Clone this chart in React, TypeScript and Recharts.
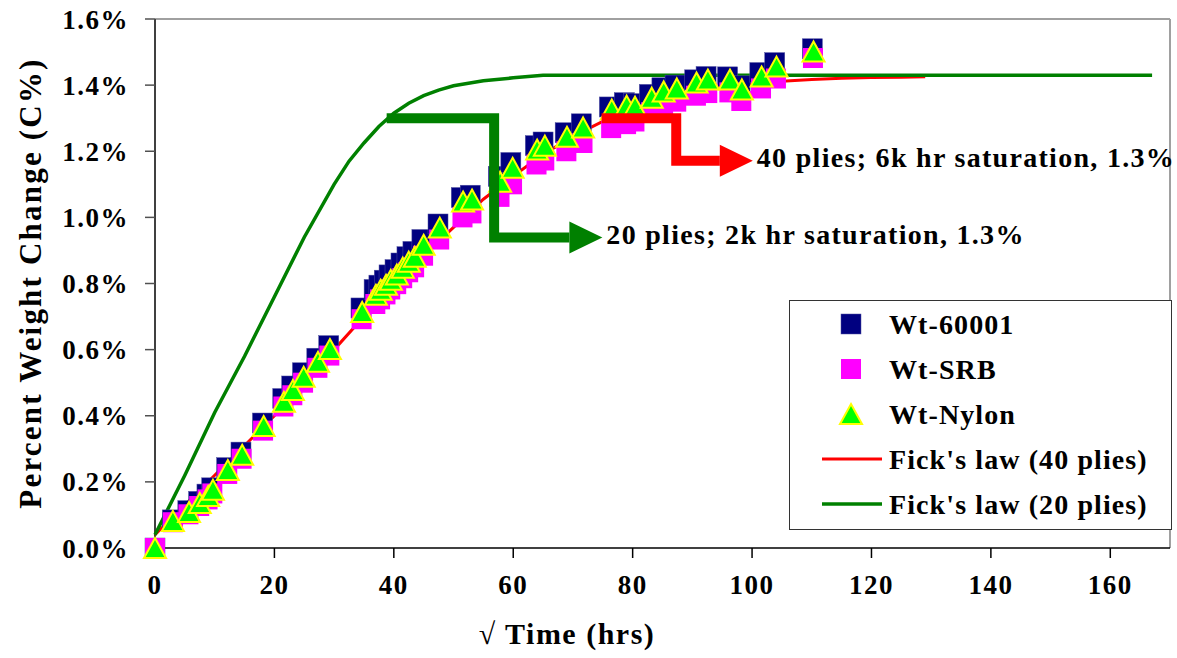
import React from "react";
import { ScatterChart, Scatter, XAxis, YAxis, ReferenceLine } from "recharts";

const FONT = '"Liberation Serif", "Times New Roman", serif';

// Weighings: sqrt(hours) and weight gain (%) for each specimen
const nylonX = [0, 3.0, 5.7, 7.5, 8.9, 9.7, 12.2, 14.6, 18.2, 21.6, 23.1, 24.9, 27.3, 29.3, 34.7, 37.0, 37.8, 38.7, 39.5, 40.5, 41.5, 42.5, 43.5, 45.0, 47.7, 51.6, 53.1, 57.8, 59.9, 64.0, 65.3, 69.0, 71.7, 76.5, 79.0, 80.4, 83.2, 85.2, 87.4, 90.7, 92.6, 96.3, 98.3, 101.6, 104.1, 110.3];
const nylonY = [0.0, 0.082, 0.109, 0.136, 0.157, 0.176, 0.236, 0.282, 0.369, 0.442, 0.478, 0.518, 0.563, 0.602, 0.714, 0.766, 0.781, 0.796, 0.811, 0.827, 0.848, 0.866, 0.881, 0.917, 0.969, 1.048, 1.054, 1.108, 1.150, 1.205, 1.217, 1.244, 1.272, 1.326, 1.338, 1.335, 1.362, 1.381, 1.390, 1.408, 1.417, 1.417, 1.387, 1.426, 1.456, 1.502];

const w60X = [0, 2.9, 5.5, 7.3, 8.7, 9.5, 12.0, 14.4, 18.0, 21.4, 22.9, 24.7, 27.1, 29.1, 34.5, 36.7, 37.5, 38.4, 39.2, 40.2, 41.2, 42.2, 43.2, 44.7, 47.4, 51.3, 52.8, 57.5, 59.6, 63.7, 65.0, 68.7, 71.4, 76.1, 78.6, 80.1, 82.8, 84.9, 87.1, 90.4, 92.3, 95.9, 98.0, 101.3, 103.8, 110.1];
const w60Y = [0.0, 0.085, 0.113, 0.141, 0.163, 0.182, 0.243, 0.29, 0.378, 0.452, 0.49, 0.53, 0.574, 0.612, 0.726, 0.782, 0.795, 0.81, 0.826, 0.842, 0.862, 0.881, 0.897, 0.933, 0.98, 1.06, 1.067, 1.124, 1.166, 1.217, 1.228, 1.256, 1.283, 1.334, 1.347, 1.344, 1.372, 1.392, 1.4, 1.416, 1.426, 1.425, 1.398, 1.438, 1.468, 1.51];

const srbX = [0, 3.0, 5.6, 7.4, 8.8, 9.6, 12.1, 14.5, 18.1, 21.5, 23.0, 24.8, 27.2, 29.2, 34.6, 36.9, 37.7, 38.6, 39.4, 40.4, 41.4, 42.4, 43.4, 44.9, 47.6, 51.5, 53.0, 57.7, 59.8, 63.9, 65.2, 68.9, 71.6, 76.4, 78.9, 80.3, 83.1, 85.1, 87.3, 90.6, 92.5, 96.2, 98.2, 101.5, 104.0, 110.2];
const srbY = [0.0, 0.078, 0.102, 0.127, 0.147, 0.165, 0.224, 0.27, 0.355, 0.428, 0.462, 0.5, 0.545, 0.582, 0.692, 0.738, 0.752, 0.767, 0.782, 0.798, 0.816, 0.834, 0.849, 0.884, 0.933, 1.0, 1.012, 1.062, 1.1, 1.16, 1.172, 1.2, 1.225, 1.27, 1.282, 1.29, 1.318, 1.34, 1.35, 1.368, 1.376, 1.378, 1.352, 1.39, 1.42, 1.482];

// Fick's law fits
const fick40X = [0, 5, 10, 15, 20, 25, 30, 35, 40, 45, 50, 55, 60, 65, 70, 75, 80, 85, 90, 95, 100, 105, 110, 115, 120, 125, 129];
const fick40Y = [0.04, 0.13, 0.22, 0.31, 0.40, 0.50, 0.60, 0.70, 0.80, 0.885, 0.97, 1.055, 1.125, 1.19, 1.245, 1.29, 1.325, 1.355, 1.378, 1.395, 1.405, 1.412, 1.417, 1.421, 1.423, 1.424, 1.425];
const fick20X = [0, 5, 10, 15, 20, 25, 30, 32.5, 35, 37.5, 40, 42.5, 45, 47.5, 50, 55, 60, 65, 70, 80, 100, 120, 140, 160, 167];
const fick20Y = [0.04, 0.22, 0.41, 0.58, 0.76, 0.94, 1.10, 1.17, 1.225, 1.275, 1.315, 1.345, 1.368, 1.385, 1.398, 1.413, 1.422, 1.43, 1.43, 1.43, 1.43, 1.43, 1.43, 1.43, 1.43];

// Elbow call-out arrows (saturation level -> label)
const arrow20X = [38.8, 56.8, 56.8, 69.4];
const arrow20Y = [1.30, 1.30, 0.939, 0.939];
const arrow40X = [74.8, 87.3, 87.3, 94.6];
const arrow40Y = [1.30, 1.30, 1.171, 1.171];

const xTicks = [0, 20, 40, 60, 80, 100, 120, 140, 160];
const yTicks = [0, 0.2, 0.4, 0.6, 0.8, 1.0, 1.2, 1.4, 1.6];

const toPoints = (xs: number[], ys: number[]) => xs.map((x, i) => ({ x, y: ys[i] }));

const NavySquare = (p: any) => (
  <rect x={p.cx - 10} y={p.cy - 10} width={20} height={20} fill="#000080" stroke="#5050a0" strokeWidth={0.5} />
);
const MagentaSquare = (p: any) => (
  <rect x={p.cx - 10} y={p.cy - 10} width={20} height={20} fill="#FF00FF" />
);
const Triangle = (p: any) => (
  <polygon
    points={`${p.cx},${p.cy - 10} ${p.cx + 11},${p.cy + 10} ${p.cx - 11},${p.cy + 10}`}
    fill="#00FF00"
    stroke="#FFFF00"
    strokeWidth={2}
  />
);
const NoDot = () => <g />;

const arrowHead = (color: string, text: string) => (p: any) => (
  <g>
    <polygon points={`${p.cx},${p.cy - 16} ${p.cx + 33},${p.cy} ${p.cx},${p.cy + 16}`} fill={color} />
    <text
      x={p.cx + 37}
      y={p.cy - 3}
      dominantBaseline="central"
      fontFamily={FONT}
      fontWeight="bold"
      fontSize={28}
      letterSpacing={1.3}
      fill="#000"
    >
      {text}
    </text>
  </g>
);

const tickStyle = { fill: "#000", fontSize: 27, fontWeight: "bold", fontFamily: FONT, letterSpacing: 1.5 };

const LegendBox = () => {
  const rows = [
    { label: "Wt-60001", kind: "navy" },
    { label: "Wt-SRB", kind: "magenta" },
    { label: "Wt-Nylon", kind: "tri" },
    { label: "Fick's law (40 plies)", kind: "red" },
    { label: "Fick's law (20 plies)", kind: "green" },
  ];
  return (
    <div
      style={{
        position: "absolute",
        left: 789,
        top: 300,
        width: 383,
        height: 230,
        boxSizing: "border-box",
        border: "1px solid #333",
        background: "#fff",
      }}
    >
      <svg width={381} height={228}>
        {rows.map((r, i) => {
          const cy = 23 + i * 45;
          return (
            <g key={r.label}>
              {r.kind === "navy" && <NavySquare cx={61} cy={cy} />}
              {r.kind === "magenta" && <MagentaSquare cx={61} cy={cy} />}
              {r.kind === "tri" && <Triangle cx={61} cy={cy} />}
              {r.kind === "red" && <line x1={32} x2={92} y1={cy} y2={cy} stroke="#FF0000" strokeWidth={3} />}
              {r.kind === "green" && <line x1={32} x2={92} y1={cy} y2={cy} stroke="#008000" strokeWidth={3.5} />}
              <text
                x={99}
                y={cy}
                dominantBaseline="central"
                fontFamily={FONT}
                fontWeight="bold"
                fontSize={28}
                letterSpacing={1.1}
                fill="#000"
              >
                {r.label}
              </text>
            </g>
          );
        })}
      </svg>
    </div>
  );
};

const XTitle = () => (
  <text
    x={567}
    y={633}
    textAnchor="middle"
    dominantBaseline="central"
    fontFamily={FONT}
    fontWeight="bold"
    fontSize={30}
    letterSpacing={1.5}
    fill="#000"
  >
    √ Time (hrs)
  </text>
);

const YTitle = () => (
  <text
    x={30}
    y={283}
    transform="rotate(-90, 30, 283)"
    textAnchor="middle"
    dominantBaseline="central"
    fontFamily={FONT}
    fontWeight="bold"
    fontSize={31}
    letterSpacing={2.2}
    fill="#000"
  >
    Percent Weight Change (C%)
  </text>
);

export default function App() {
  return (
    <div style={{ position: "absolute", left: 0, top: 0, width: 1177, height: 658, background: "#fff" }}>
      <ScatterChart width={1177} height={658} margin={{ top: 19, right: 7, bottom: 0, left: 0 }}>
        <XAxis
          type="number"
          dataKey="x"
          domain={[0, 170]}
          ticks={xTicks}
          height={110}
          tickSize={10}
          tickMargin={17}
          tick={tickStyle}
          axisLine={{ stroke: "#000", strokeWidth: 1.5 }}
          tickLine={{ stroke: "#000", strokeWidth: 1.5 }}
          label={<XTitle />}
        />
        <YAxis
          type="number"
          dataKey="y"
          domain={[0, 1.6]}
          ticks={yTicks}
          width={155}
          tickSize={10}
          tickMargin={16}
          tick={tickStyle}
          tickFormatter={(v: number) => `${v.toFixed(1)}%`}
          axisLine={{ stroke: "#404040", strokeWidth: 2 }}
          tickLine={{ stroke: "#505050", strokeWidth: 1.5 }}
          label={<YTitle />}
        />
        <ReferenceLine y={1.6} stroke="#a0a0a0" strokeWidth={2} />
        <ReferenceLine x={170} stroke="#a0a0a0" strokeWidth={2} />

        <Scatter
          data={toPoints(fick40X, fick40Y)}
          line={{ stroke: "#FF0000", strokeWidth: 3 }}
          shape={NoDot}
          isAnimationActive={false}
        />
        <Scatter
          data={toPoints(fick20X, fick20Y)}
          line={{ stroke: "#008000", strokeWidth: 3.5 }}
          shape={NoDot}
          isAnimationActive={false}
        />

        <Scatter data={toPoints(w60X, w60Y)} shape={NavySquare} isAnimationActive={false} />
        <Scatter data={toPoints(srbX, srbY)} shape={MagentaSquare} isAnimationActive={false} />
        <Scatter data={toPoints(nylonX, nylonY)} shape={Triangle} isAnimationActive={false} />

        <Scatter
          data={toPoints(arrow20X, arrow20Y)}
          line={{ stroke: "#008000", strokeWidth: 10, strokeLinejoin: "miter" }}
          shape={NoDot}
          isAnimationActive={false}
        />
        <Scatter
          data={toPoints(arrow20X.slice(-1), arrow20Y.slice(-1))}
          shape={arrowHead("#008000", "20 plies; 2k hr saturation, 1.3%")}
          isAnimationActive={false}
        />
        <Scatter
          data={toPoints(arrow40X, arrow40Y)}
          line={{ stroke: "#FF0000", strokeWidth: 10, strokeLinejoin: "miter" }}
          shape={NoDot}
          isAnimationActive={false}
        />
        <Scatter
          data={toPoints(arrow40X.slice(-1), arrow40Y.slice(-1))}
          shape={arrowHead("#FF0000", "40 plies; 6k hr saturation, 1.3%")}
          isAnimationActive={false}
        />
      </ScatterChart>
      <LegendBox />
    </div>
  );
}
